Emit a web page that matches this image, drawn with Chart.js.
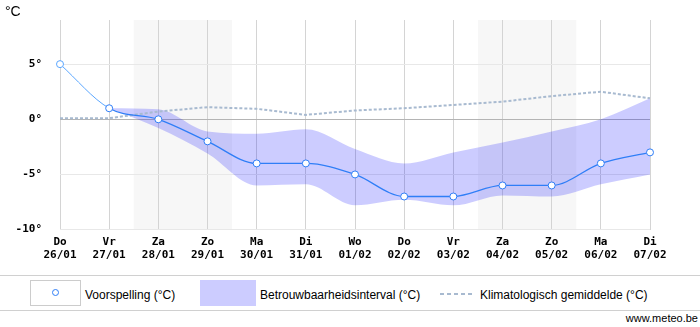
<!DOCTYPE html>
<html>
<head>
<meta charset="utf-8">
<script src="https://cdn.jsdelivr.net/npm/chart.js@4"></script>
<style>
  body { margin: 0; background: #fff; }
  #wrap { position: relative; width: 700px; height: 327px; font-family: "Liberation Sans", Arial, sans-serif; }
  #unit { position: absolute; left: 5px; top: 3px; font-size: 14px; color: #000; }
  .hline { position: absolute; left: 0; width: 700px; height: 1px; background: #d0d0d0; }
  .lg { position: absolute; font-size: 12px; color: #000; top: 288px; }
  #credit { position: absolute; right: 2px; top: 312px; font-size: 11px; color: #000; }
</style>
</head>
<body>
<div id="wrap">
  <canvas id="myChart" width="700" height="270"></canvas>
  <div id="unit">°C</div>
  <div class="hline" style="top:275px"></div>
  <div class="hline" style="top:310px"></div>
  <div style="position:absolute;left:30px;top:280px;width:49px;height:24px;border:1px solid #ccc;background:#fff">
    <div style="position:absolute;left:21px;top:8px;width:5px;height:5px;border:1px solid #2f7ef7;border-radius:50%"></div>
  </div>
  <div class="lg" style="left:85px">Voorspelling (°C)</div>
  <div style="position:absolute;left:200px;top:280px;width:56px;height:26px;background:#ccccff"></div>
  <div class="lg" style="left:260px">Betrouwbaarheidsinterval (°C)</div>
  <div style="position:absolute;left:440px;top:293px;width:34px;height:2px;background:repeating-linear-gradient(90deg,#a8bad0 0 4px,transparent 4px 7px)"></div>
  <div class="lg" style="left:480px">Klimatologisch gemiddelde (°C)</div>
  <div id="credit">www.meteo.be</div>
</div>
<script>
// labels
var days = ['Do', 'Vr', 'Za', 'Zo', 'Ma', 'Di', 'Wo', 'Do', 'Vr', 'Za', 'Zo', 'Ma', 'Di'];
var dates = ['26/01', '27/01', '28/01', '29/01', '30/01', '31/01', '01/02', '02/02', '03/02', '04/02', '05/02', '06/02', '07/02'];
var yTicks = [-10, -5, 0, 5];

// series (°C)
var forecast = [5, 1, 0, -2, -4, -4, -5, -7, -7, -6, -6, -4, -3];
var bandMax = [null, 1, 0.9, -1.1, -1.3, -0.9, -2.7, -4.0, -3.0, -2.1, -1.1, 0, 1.9];
var bandMin = [null, 1, -0.8, -3.1, -6.0, -5.9, -7.8, -7.3, -7.8, -6.9, -7.0, -5.9, -5.0];
var climate = [0.1, 0.1, 0.7, 1.1, 0.95, 0.4, 0.8, 1.0, 1.3, 1.6, 2.1, 2.5, 1.9];

// weekend shading (category index from/to)
var weekends = [[1.5, 3.5], [8.5, 10.5]];

var labels = days.map(function (d, i) { return [d, dates[i]]; });

var blue = '#2f7ef7';
var lightBlue = '#5aa6ff';

var weekendPlugin = {
  id: 'weekend',
  beforeDraw: function (chart) {
    var ctx = chart.ctx, x = chart.scales.x, a = chart.chartArea;
    ctx.save();
    ctx.fillStyle = '#f7f7f7';
    weekends.forEach(function (w) {
      var x1 = x.getPixelForValue(w[0]), x2 = x.getPixelForValue(w[1]);
      ctx.fillRect(x1, a.top, x2 - x1, a.bottom - a.top);
    });
    ctx.restore();
  }
};

var tickFont = { family: '"DejaVu Sans Mono", monospace', size: 11, weight: 'bold' };

var myChart = new Chart('myChart', {
  type: 'line',
  data: {
    labels: labels,
    datasets: [
      {
        label: 'Voorspelling (°C)',
        data: forecast,
        borderColor: blue,
        borderWidth: 1.3,
        cubicInterpolationMode: 'monotone',
        pointRadius: 3.5,
        pointBorderWidth: 1,
        pointBackgroundColor: '#fff',
        pointBorderColor: forecast.map(function (v, i) { return i === 0 ? lightBlue : blue; }),
        segment: {
          borderColor: function (c) { return c.p0DataIndex === 0 ? lightBlue : blue; },
          borderWidth: function (c) { return c.p0DataIndex === 0 ? 1 : 1.3; }
        },
        fill: false
      },
      {
        label: 'Klimatologisch gemiddelde (°C)',
        data: climate,
        borderColor: '#a8bad0',
        borderWidth: 2,
        borderDash: [3, 2],
        tension: 0,
        pointRadius: 0,
        fill: false
      },
      {
        label: 'max',
        data: bandMax,
        borderWidth: 0,
        borderColor: 'rgba(0,0,0,0)',
        pointRadius: 0,
        cubicInterpolationMode: 'monotone',
        fill: false
      },
      {
        label: 'Betrouwbaarheidsinterval (°C)',
        data: bandMin,
        borderWidth: 0,
        borderColor: 'rgba(0,0,0,0)',
        backgroundColor: 'rgba(0,0,255,0.2)',
        pointRadius: 0,
        cubicInterpolationMode: 'monotone',
        fill: { target: 2 }
      }
    ]
  },
  options: {
    responsive: false,
    animation: false,
    layout: { padding: { left: 12, right: 50, top: 20, bottom: 2 } },
    plugins: {
      legend: { display: false },
      tooltip: { enabled: false }
    },
    scales: {
      x: {
        offset: false,
        grid: { color: '#d4d4d4', drawTicks: false },
        border: { display: false },
        ticks: { color: '#000', font: tickFont, padding: 6, maxRotation: 0, autoSkip: false }
      },
      y: {
        min: -10,
        max: 9,
        afterBuildTicks: function (scale) {
          scale.ticks = yTicks.map(function (v) { return { value: v }; });
        },
        afterFit: function (scale) {
          scale.width = 48;
          scale.paddingTop = 0;
          scale.paddingBottom = 0;
        },
        grid: {
          drawTicks: false,
          color: function (c) { return c.tick && c.tick.value === 0 ? '#b4b4b4' : '#e8e8e8'; }
        },
        border: { display: false },
        ticks: {
          color: '#000',
          font: tickFont,
          padding: 18,
          callback: function (v) { return v + '°'; }
        }
      }
    }
  },
  plugins: [weekendPlugin]
});
</script>
</body>
</html>
